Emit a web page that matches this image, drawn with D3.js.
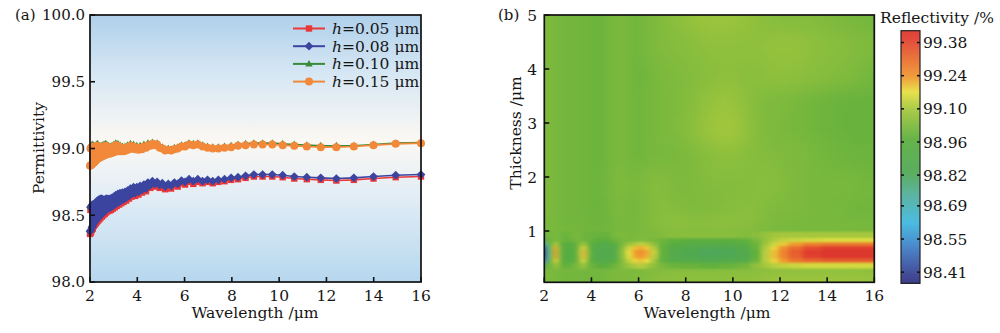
<!DOCTYPE html>
<html><head><meta charset="utf-8">
<script src="https://cdn.jsdelivr.net/npm/d3@7"></script>
<style>
body{margin:0;background:#fff}
svg{display:block}
text{font-family:"DejaVu Serif","Liberation Serif",serif;fill:#151515}
</style>
</head><body>
<svg id="chart" width="1000" height="333"></svg>
<script>
// ---------- Panel (a) data ----------
const wavelengths = [2.00,2.02,2.04,2.06,2.08,2.10,2.12,2.14,2.16,2.18,
2.20,2.22,2.25,2.27,2.29,2.32,2.34,2.37,2.39,2.42,
2.44,2.47,2.50,2.53,2.56,2.59,2.62,2.65,2.68,2.71,
2.75,2.78,2.82,2.85,2.89,2.93,2.97,3.01,3.05,3.09,
3.13,3.18,3.23,3.27,3.32,3.37,3.42,3.48,3.53,3.59,
3.65,3.71,3.77,3.84,3.91,3.98,4.05,4.12,4.20,4.28,
4.37,4.45,4.55,4.64,4.74,4.84,4.95,5.06,5.18,5.31,
5.43,5.57,5.71,5.87,6.02,6.19,6.37,6.56,6.76,6.97,
7.19,7.43,7.69,7.97,8.26,8.58,8.93,9.30,9.71,10.15,
10.64,11.17,11.76,12.42,13.16,13.99,14.93,16.00];

const permH005 = [98.36,98.54,98.37,98.55,98.39,98.56,98.40,98.555,98.42,98.56,
98.43,98.57,98.44,98.58,98.45,98.59,98.46,98.595,98.47,98.60,
98.48,98.605,98.49,98.60,98.50,98.595,98.51,98.60,98.52,98.605,
98.53,98.60,98.535,98.605,98.54,98.61,98.55,98.62,98.56,98.63,
98.57,98.64,98.58,98.645,98.59,98.65,98.60,98.655,98.61,98.665,
98.625,98.68,98.64,98.69,98.645,98.69,98.655,98.70,98.67,98.71,
98.68,98.725,98.705,98.735,98.715,98.73,98.705,98.72,98.695,98.715,
98.70,98.725,98.715,98.74,98.73,98.75,98.735,98.75,98.74,98.75,
98.74,98.75,98.755,98.765,98.77,98.78,98.79,98.79,98.79,98.785,
98.775,98.77,98.765,98.76,98.765,98.775,98.785,98.79];

const permH008 = [98.38,98.56,98.39,98.57,98.41,98.58,98.42,98.575,98.44,98.58,
98.45,98.59,98.46,98.60,98.47,98.61,98.48,98.615,98.49,98.62,
98.50,98.625,98.51,98.62,98.52,98.615,98.53,98.62,98.54,98.625,
98.55,98.62,98.555,98.625,98.56,98.63,98.57,98.64,98.58,98.65,
98.59,98.66,98.60,98.665,98.61,98.67,98.62,98.675,98.63,98.685,
98.645,98.70,98.66,98.71,98.665,98.71,98.675,98.72,98.69,98.73,
98.70,98.745,98.725,98.755,98.735,98.75,98.725,98.74,98.715,98.735,
98.72,98.745,98.735,98.76,98.75,98.77,98.755,98.77,98.755,98.765,
98.755,98.765,98.77,98.78,98.785,98.795,98.805,98.805,98.805,98.80,
98.79,98.785,98.78,98.775,98.78,98.79,98.80,98.805];

const permH010 = [98.88,99.015,98.885,99.025,98.89,99.03,98.90,99.025,98.905,99.015,
98.91,99.02,98.92,99.03,98.93,99.035,98.935,99.025,98.94,99.015,
98.945,99.02,98.95,99.025,98.955,99.03,98.96,99.035,98.965,99.03,
98.97,99.02,98.97,99.015,98.975,99.02,98.98,99.03,98.985,99.04,
98.99,99.035,98.99,99.025,98.99,99.015,98.99,99.015,98.995,99.025,
99.005,99.035,99.01,99.03,99.005,99.02,99.00,99.02,99.005,99.03,
99.015,99.04,99.03,99.045,99.035,99.04,99.015,99.01,98.995,99.00,
98.995,99.005,99.01,99.025,99.025,99.04,99.035,99.04,99.025,99.015,
99.01,99.01,99.015,99.02,99.03,99.035,99.04,99.04,99.04,99.035,
99.03,99.025,99.02,99.02,99.02,99.03,99.04,99.045];

const permH015 = [98.87,99.00,98.875,99.01,98.88,99.015,98.89,99.01,98.895,99.00,
98.90,99.005,98.91,99.015,98.92,99.02,98.925,99.01,98.93,99.00,
98.935,99.005,98.94,99.01,98.945,99.015,98.95,99.02,98.955,99.015,
98.96,99.005,98.96,99.00,98.965,99.005,98.97,99.015,98.975,99.025,
98.98,99.02,98.98,99.01,98.98,99.00,98.98,99.00,98.985,99.01,
98.995,99.02,99.00,99.015,98.995,99.005,98.99,99.005,98.995,99.015,
99.005,99.025,99.02,99.035,99.025,99.03,99.005,99.00,98.985,98.99,
98.985,98.995,99.00,99.015,99.015,99.03,99.025,99.03,99.015,99.005,
99.00,99.00,99.005,99.01,99.02,99.025,99.03,99.03,99.03,99.025,
99.02,99.015,99.01,99.01,99.015,99.025,99.035,99.04];

const seriesLabels = ["0.05","0.08","0.10","0.15"];
const xTicks = [2,4,6,8,10,12,14,16];
const yTicksA = [98.0,98.5,99.0,99.5,100.0];

// ---------- Panel (b) data ----------
const hmWave = [2.0,2.05,2.12,2.22,2.35,2.48,2.6,2.75,2.95,3.2,3.4,3.55,3.67,3.8,4.0,4.3,4.65,5.0,5.3,5.6,5.85,6.1,6.35,6.65,7.0,7.5,8.2,9.0,9.8,10.5,11.0,11.4,11.75,12.1,12.6,13.3,14.2,15.1,16.0];
const hmThick = [0.05,0.25,0.38,0.46,0.54,0.62,0.70,0.77,0.84,0.92,1.05,1.4,1.9,2.4,2.9,3.4,3.9,4.4,5.0];
const bandRows = [2,3,4,5,6,7,8,9];
const hmValues = [
// t=0.05
[99.03,99.01,99.05,99.04,99.00,99.05,99.03,99.00,98.99,99.01,99.04,99.02,98.99,98.99, 99.02,99.00,99.01,99.04,99.04,99.02,99.02,99.03,99.04,99.05, 99.06,99.06,99.06,99.06,99.06,99.06, 99.06,99.07,99.08,99.08,99.08,99.08,99.08,99.08,99.07],
// t=0.25
[99.03,99.01,99.05,99.04,99.00,99.05,99.03,99.00,98.99,99.01,99.04,99.02,98.99,98.99, 99.02,99.00,99.01,99.04,99.04,99.03,99.03,99.04,99.05,99.05, 99.06,99.06,99.06,99.06,99.06,99.07, 99.07,99.08,99.09,99.09,99.09,99.09,99.09,99.09,99.08],
// t=0.38
[98.85,98.82,99.00,99.03,99.00,99.10,99.04,98.99,98.98,99.00,99.03,99.05,99.10,99.02, 99.00,98.97,98.97,99.00,99.04,99.08,99.11,99.12,99.10,99.06, 99.02,99.00,98.99,98.98,98.99,99.01, 99.06,99.10,99.12,99.13,99.14,99.15,99.15,99.15,99.15],
// t=0.46
[98.55,98.50,98.80,99.00,99.02,99.18,99.06,98.96,98.94,98.95,99.00,99.10,99.17,99.05, 98.96,98.90,98.89,98.93,99.04,99.13,99.18,99.20,99.17,99.09, 98.98,98.92,98.90,98.88,98.89,98.91, 99.00,99.12,99.18,99.23,99.29,99.32,99.34,99.34,99.34],
// t=0.54
[98.40,98.38,98.62,98.98,99.05,99.24,99.08,98.95,98.93,98.94,98.98,99.12,99.21,99.08, 98.94,98.88,98.87,98.90,99.05,99.16,99.22,99.24,99.21,99.12, 98.98,98.89,98.86,98.83,98.84,98.88, 98.98,99.12,99.20,99.27,99.33,99.39,99.42,99.42,99.42],
// t=0.62
[98.38,98.36,98.60,98.98,99.05,99.26,99.08,98.95,98.93,98.94,98.98,99.13,99.22,99.08, 98.94,98.88,98.87,98.90,99.05,99.17,99.23,99.25,99.22,99.13, 98.98,98.89,98.86,98.82,98.83,98.88, 98.98,99.12,99.20,99.27,99.34,99.40,99.42,99.42,99.42],
// t=0.70
[98.45,98.44,98.70,98.99,99.04,99.22,99.07,98.96,98.94,98.95,98.99,99.10,99.18,99.06, 98.95,98.89,98.88,98.91,99.04,99.14,99.20,99.22,99.19,99.11, 98.98,98.90,98.88,98.85,98.86,98.90, 98.99,99.11,99.18,99.25,99.31,99.37,99.40,99.40,99.40],
// t=0.77
[98.72,98.70,98.92,99.01,99.02,99.12,99.04,98.97,98.95,98.96,99.00,99.05,99.10,99.02, 98.96,98.92,98.91,98.94,99.02,99.08,99.11,99.13,99.11,99.06, 98.99,98.95,98.93,98.92,98.92,98.94, 99.00,99.09,99.14,99.19,99.23,99.27,99.29,99.29,99.29],
// t=0.84
[98.90,98.90,99.00,99.01,99.00,99.04,99.02,99.00,98.99,99.00,99.02,99.02,99.01,99.00, 98.99,98.97,98.97,99.00,99.02,99.02,99.03,99.04,99.03,99.02, 99.00,98.98,98.97,98.97,98.97,98.98, 99.02,99.07,99.11,99.13,99.14,99.15,99.16,99.16,99.16],
// t=0.92
[99.00,99.00,99.02,99.02,99.01,99.03,99.02,99.00,99.00,99.01,99.02,99.02,99.00,99.00, 99.00,98.99,98.99,99.02,99.03,99.02,99.02,99.03,99.03,99.03, 99.04,99.05,99.05,99.05,99.05,99.04, 99.05,99.07,99.09,99.10,99.10,99.10,99.10,99.10,99.10],
// t=1.05
[99.03,99.01,99.04,99.03,99.00,99.04,99.03,99.00,98.99,99.01,99.04,99.02,98.99,98.99, 99.01,98.99,98.99,99.03,99.03,99.01,99.02,99.03,99.04,99.05, 99.06,99.07,99.07,99.07,99.07,99.06, 99.05,99.03,99.02,99.02,99.02,99.02,99.02,99.02,99.02],
// t=1.4
[99.03,99.01,99.05,99.04,99.00,99.05,99.03,99.00,98.99,99.01,99.04,99.02,98.99,98.99, 99.01,98.99,98.99,99.04,99.03,99.01,99.01,99.02,99.03,99.04, 99.05,99.04,99.03,99.03,99.04,99.05, 99.05,99.04,99.03,99.03,99.03,99.02,99.02,99.01,99.01],
// t=1.9
[99.03,99.01,99.05,99.04,99.00,99.05,99.03,99.00,98.99,99.01,99.04,99.02,98.99,98.99, 99.01,98.99,99.00,99.04,99.04,99.02,99.01,99.02,99.04,99.05, 99.04,99.03,99.03,99.04,99.04,99.04, 99.05,99.05,99.05,99.04,99.03,99.02,99.02,99.02,99.01],
// t=2.4
[99.03,99.01,99.05,99.04,99.00,99.05,99.03,99.00,98.99,99.01,99.04,99.02,98.99,98.99, 99.01,98.99,98.99,99.04,99.03,99.01,99.00,99.01,99.02,99.02, 99.02,99.02,99.03,99.05,99.06,99.05, 99.04,99.04,99.04,99.03,99.03,99.02,99.01,99.00,99.00],
// t=2.9
[99.03,99.01,99.05,99.04,99.00,99.05,99.03,99.00,98.99,99.01,99.04,99.02,98.99,98.99, 99.01,98.99,98.99,99.04,99.03,99.01,99.00,99.01,99.02,99.02, 99.02,99.03,99.05,99.08,99.10,99.07, 99.04,99.03,99.03,99.02,99.02,99.01,99.00,98.99,98.99],
// t=3.4
[99.03,99.01,99.05,99.04,99.00,99.05,99.03,99.00,98.99,99.01,99.04,99.02,98.99,98.99, 99.01,98.99,98.99,99.04,99.03,99.01,99.00,99.01,99.02,99.02, 99.02,99.03,99.04,99.07,99.08,99.06, 99.04,99.03,99.03,99.03,99.02,99.01,99.00,98.99,98.99],
// t=3.9
[99.03,99.01,99.05,99.04,99.00,99.05,99.03,99.00,98.99,99.01,99.04,99.02,98.99,98.99, 99.01,98.99,98.99,99.04,99.03,99.01,99.00,99.00,99.01,99.02, 99.03,99.03,99.04,99.05,99.06,99.05, 99.05,99.06,99.06,99.06,99.06,99.05,99.04,99.03,99.01],
// t=4.4
[99.03,99.01,99.05,99.04,99.00,99.05,99.03,99.00,98.99,99.01,99.04,99.02,98.99,98.99, 99.01,98.99,98.99,99.04,99.03,99.01,99.00,99.01,99.02,99.03, 99.04,99.04,99.05,99.06,99.06,99.06, 99.06,99.06,99.07,99.07,99.07,99.06,99.05,99.04,99.03],
// t=5.0
[99.03,99.01,99.05,99.04,99.00,99.05,99.03,99.00,98.99,99.01,99.04,99.02,98.99,98.99, 99.01,98.99,98.99,99.04,99.03,99.01,99.00,99.01,99.02,99.03, 99.04,99.05,99.07,99.08,99.08,99.07, 99.06,99.05,99.05,99.04,99.04,99.04,99.03,99.02,99.01]
];
const yTicksB = [1,2,3,4,5];
const cbTickValues = [98.41,98.55,98.69,98.82,98.96,99.10,99.24,99.38];
const cbTickLabels = ["98.41","98.55","98.69","98.82","98.96","99.10","99.24","99.38"];
const cmapValues = [98.363,98.39,98.517,98.618,98.728,98.829,98.968,99.103,99.171,99.235,99.403,99.43];
const cmapColors = ["#2c3283","#353a8c","#3f7fc6","#3fb7e0","#4fb0a0","#4fa855","#5aae3e","#a8c83e","#e6e040","#f0962e","#e03a2e","#dc352c"];

// ---------- Setup ----------
const svg = d3.select("#chart");
const defs = svg.append("defs");

// ===== Panel (a) =====
const xA = d3.scaleLinear().domain([2,16]).range([90,421]);
const yA = d3.scaleLinear().domain([98,100]).range([282,15]);

const bg = defs.append("linearGradient").attr("id","bgA").attr("x1",0).attr("y1",0).attr("x2",0).attr("y2",1);
[[0,"#afd0ea"],[0.22,"#d6e7f4"],[0.47,"#fbf8f3"],[0.68,"#e2edf6"],[1,"#b6d7ee"]].forEach(s=>
  bg.append("stop").attr("offset",s[0]).attr("stop-color",s[1]));
svg.append("rect").attr("x",xA(2)).attr("y",yA(100)).attr("width",xA(16)-xA(2)).attr("height",yA(98)-yA(100)).attr("fill","url(#bgA)");

const series = [
  {vals:permH005, color:"#e8383a", sym:"M-3.2,-3.2h6.4v6.4h-6.4z"},
  {vals:permH008, color:"#3b45a0", sym:"M0,-4.4L4.4,0L0,4.4L-4.4,0Z"},
  {vals:permH010, color:"#3a8a3a", sym:"M0,-4L3.7,2.7L-3.7,2.7Z"},
  {vals:permH015, color:"#f2883a", sym:"M4,0A4,4 0 1,1 -4,0A4,4 0 1,1 4,0Z"}
];
const line = d3.line().x(d=>xA(d[0])).y(d=>yA(d[1]));
series.forEach(s=>{
  const pts = wavelengths.map((w,i)=>[w,s.vals[i]]);
  svg.append("path").attr("d",line(pts)).attr("fill","none").attr("stroke",s.color).attr("stroke-width",1.6);
  svg.append("g").selectAll("path").data(pts).join("path")
    .attr("d",s.sym).attr("transform",d=>`translate(${xA(d[0])},${yA(d[1])})`).attr("fill",s.color);
});

// axes (a)
const gA = svg.append("g");
gA.append("rect").attr("x",xA(2)).attr("y",yA(100)).attr("width",xA(16)-xA(2)).attr("height",yA(98)-yA(100))
  .attr("fill","none").attr("stroke","#111").attr("stroke-width",1.7);
gA.selectAll(".xt").data(xTicks).join("line").attr("x1",d=>xA(d)).attr("x2",d=>xA(d)).attr("y1",yA(98)).attr("y2",yA(98)-5).attr("stroke","#111").attr("stroke-width",1.6);
gA.selectAll(".xl").data(xTicks).join("text").attr("x",d=>xA(d)).attr("y",301).attr("text-anchor","middle").attr("font-size",15.5).text(d=>d);
gA.selectAll(".yt").data(yTicksA).join("line").attr("x1",xA(2)).attr("x2",xA(2)+5).attr("y1",d=>yA(d)).attr("y2",d=>yA(d)).attr("stroke","#111").attr("stroke-width",1.6);
gA.selectAll(".yl").data(yTicksA).join("text").attr("x",85).attr("y",d=>yA(d)).attr("dy","0.36em").attr("text-anchor","end").attr("font-size",15).text(d=>d3.format(".1f")(d));
svg.append("text").attr("x",255).attr("y",318).attr("text-anchor","middle").attr("font-size",15.5).text("Wavelength /μm");
svg.append("text").attr("transform","translate(44,148) rotate(-90)").attr("text-anchor","middle").attr("font-size",15.5).text("Permittivity");
svg.append("text").attr("x",15).attr("y",20).attr("font-size",15).text("(a)");

// legend (a)
const lg = svg.append("g");
seriesLabels.forEach((lab,i)=>{
  const s = series[i];
  const yy = 28.5 + i*17.7;
  lg.append("line").attr("x1",293).attr("x2",325).attr("y1",yy).attr("y2",yy).attr("stroke",s.color).attr("stroke-width",2);
  lg.append("path").attr("d",s.sym).attr("transform",`translate(309,${yy})`).attr("fill",s.color);
  const t = lg.append("text").attr("x",332).attr("y",yy+5.5).attr("font-size",15.5);
  t.append("tspan").attr("font-style","italic").text("h");
  t.append("tspan").text("=" + lab + " μm");
});

// ===== Panel (b) =====
const xB = d3.scaleLinear().domain([2,16]).range([544.3,874.3]);
const yB = d3.scaleLinear().domain([0.05,5]).range([282.3,15]);
const color = d3.scaleLinear().domain(cmapValues).range(cmapColors).clamp(true);

const fx0 = xB(2)-50, fy0 = yB(5)-50, fw = xB(16)-xB(2)+100, fh = yB(0.05)-yB(5)+100;
defs.append("clipPath").attr("id","clipB").append("rect")
  .attr("x",xB(2)).attr("y",yB(5)).attr("width",xB(16)-xB(2)).attr("height",yB(0.05)-yB(5));
defs.append("filter").attr("id","softBg").attr("filterUnits","userSpaceOnUse")
  .attr("x",fx0).attr("y",fy0).attr("width",fw).attr("height",fh)
  .append("feGaussianBlur").attr("stdDeviation","9 9");
defs.append("filter").attr("id","softBand").attr("filterUnits","userSpaceOnUse")
  .attr("x",fx0).attr("y",fy0).attr("width",fw).attr("height",fh)
  .append("feGaussianBlur").attr("stdDeviation","2.8 1.3");

function cellEdges(centers, lo, hi){
  return centers.map((c,i)=>[i===0?lo:(centers[i-1]+c)/2, i===centers.length-1?hi:(c+centers[i+1])/2]);
}
const colE = cellEdges(hmWave,2,16);
const rowE = cellEdges(hmThick,0.05,5);
const pad = 30;
const cells = [];
hmValues.forEach((row,ri)=>row.forEach((v,ci)=>{
  let x0 = xB(colE[ci][0]), x1 = xB(colE[ci][1]);
  let y0 = yB(rowE[ri][1]), y1 = yB(rowE[ri][0]);
  if(ci===0) x0 -= pad; if(ci===hmWave.length-1) x1 += pad;
  if(ri===0) y1 += pad; if(ri===hmThick.length-1) y0 -= pad;
  cells.push({x0,x1,y0,y1,v,band:bandRows.includes(ri)});
}));
const heat = svg.append("g").attr("clip-path","url(#clipB)");
heat.append("rect").attr("x",xB(2)).attr("y",yB(5)).attr("width",xB(16)-xB(2)).attr("height",yB(0.05)-yB(5))
  .attr("fill",color(99.02));
heat.append("g").attr("filter","url(#softBg)")
  .selectAll("rect").data(cells.filter(d=>!d.band)).join("rect")
  .attr("x",d=>d.x0).attr("y",d=>d.y0).attr("width",d=>d.x1-d.x0+0.6).attr("height",d=>d.y1-d.y0+0.6)
  .attr("fill",d=>color(d.v));
heat.append("g").attr("filter","url(#softBand)")
  .selectAll("rect").data(cells.filter(d=>d.band)).join("rect")
  .attr("x",d=>d.x0).attr("y",d=>d.y0).attr("width",d=>d.x1-d.x0+0.6).attr("height",d=>d.y1-d.y0+0.6)
  .attr("fill",d=>color(d.v));

const gB = svg.append("g");
gB.append("rect").attr("x",xB(2)).attr("y",yB(5)).attr("width",xB(16)-xB(2)).attr("height",yB(0.05)-yB(5))
  .attr("fill","none").attr("stroke","#111").attr("stroke-width",1.7);
gB.selectAll(".xt").data(xTicks).join("line").attr("x1",d=>xB(d)).attr("x2",d=>xB(d)).attr("y1",yB(0.05)).attr("y2",yB(0.05)-5).attr("stroke","#111").attr("stroke-width",1.6);
gB.selectAll(".xl").data(xTicks).join("text").attr("x",d=>xB(d)).attr("y",301).attr("text-anchor","middle").attr("font-size",15.5).text(d=>d);
gB.selectAll(".yt").data(yTicksB).join("line").attr("x1",xB(2)).attr("x2",xB(2)+5).attr("y1",d=>yB(d)).attr("y2",d=>yB(d)).attr("stroke","#111").attr("stroke-width",1.6);
gB.selectAll(".yl").data(yTicksB).join("text").attr("x",537).attr("y",d=>yB(d)).attr("dy","0.36em").attr("text-anchor","end").attr("font-size",15.5).text(d=>d);
svg.append("text").attr("x",707).attr("y",318).attr("text-anchor","middle").attr("font-size",15.5).text("Wavelength /μm");
svg.append("text").attr("transform","translate(521,133) rotate(-90)").attr("text-anchor","middle").attr("font-size",15.5).text("Thickness /μm");
svg.append("text").attr("x",498).attr("y",20).attr("font-size",15).text("(b)");

// colorbar
const cbY = d3.scaleLinear().domain([98.363,99.43]).range([283.3,30.7]);
const cbG = svg.append("g");
const steps = d3.range(0,253);
cbG.selectAll("rect").data(steps).join("rect")
  .attr("x",901).attr("width",19)
  .attr("y",d=>cbY.range()[1]+d).attr("height",1.2)
  .attr("fill",d=>color(cbY.invert(cbY.range()[1]+d+0.5)));
cbG.append("rect").attr("x",901).attr("y",cbY(99.43)).attr("width",19).attr("height",cbY(98.363)-cbY(99.43))
  .attr("fill","none").attr("stroke","#222").attr("stroke-width",1.2);
cbG.selectAll(".ct").data(cbTickValues).join("line").attr("x1",901).attr("x2",904).attr("y1",d=>cbY(d)).attr("y2",d=>cbY(d)).attr("stroke","#111").attr("stroke-width",1.5);
cbG.selectAll(".ct2").data(cbTickValues).join("line").attr("x1",917).attr("x2",920).attr("y1",d=>cbY(d)).attr("y2",d=>cbY(d)).attr("stroke","#111").attr("stroke-width",1.5);
cbG.selectAll(".cl").data(cbTickValues).join("text").attr("x",923).attr("y",d=>cbY(d)).attr("dy","0.36em").attr("font-size",15.5).text((d,i)=>cbTickLabels[i]);
svg.append("text").attr("x",937).attr("y",23).attr("text-anchor","middle").attr("font-size",15.5).text("Reflectivity /%");
</script>
</body></html>
